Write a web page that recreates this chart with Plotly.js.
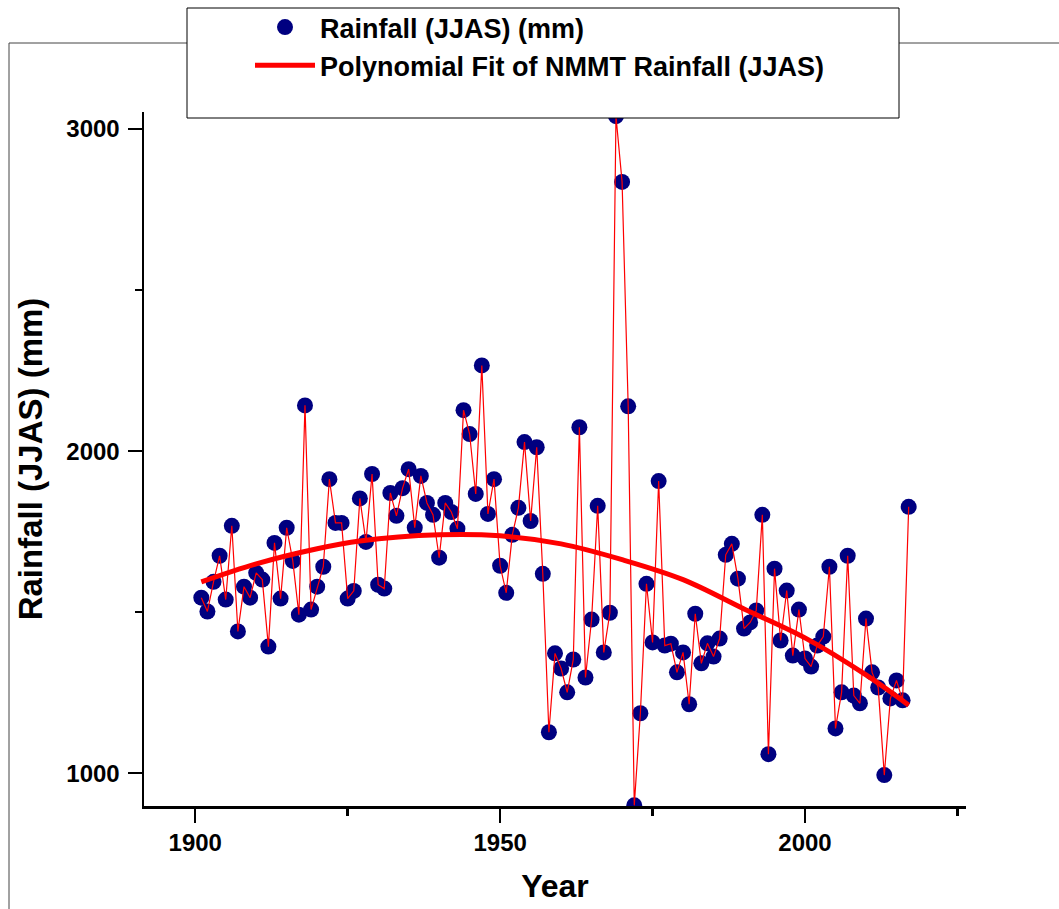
<!DOCTYPE html>
<html><head><meta charset="utf-8">
<script src="https://cdn.plot.ly/plotly-3.0.1.min.js"></script>
<style>html,body{margin:0;padding:0;background:#fff;}#chart{width:1059px;height:909px;}</style>
</head><body><div id="chart"></div>
<script>
// ---- data ----
const firstYear = 1901;
const rainfall = [
  1545,1502,1594,1675,1539,1768,1440,1579,1545,1622,
  1601,1393,1715,1542,1762,1659,1492,2142,1508,1579,
  1641,1913,1777,1777,1542,1566,1853,1718,1929,1585,
  1573,1870,1799,1885,1944,1762,1923,1839,1802,1669,
  1839,1811,1759,2127,2053,1867,2266,1805,1913,1644,
  1560,1740,1824,2028,1783,2012,1619,1127,1372,1325,
  1251,1353,2074,1297,1477,1830,1375,1498,3040,2836,
  2139,900,1186,1588,1406,1907,1396,1402,1313,1375,
  1214,1495,1341,1403,1362,1418,1678,1712,1604,1449,
  1468,1505,1802,1059,1635,1412,1567,1365,1508,1356,
  1331,1396,1424,1641,1139,1251,1675,1241,1217,1480,
  1313,1266,994,1232,1288,1226,1827
];
const years = rainfall.map((_, i) => firstYear + i);
const fitYears  = [1901,1910,1920,1927,1940,1950,1960,1970,1980,1990,2000,2010,2017];
const fitValues = [1594,1650,1697,1721,1740,1737,1712,1663,1601,1510,1420,1305,1211];
const xTickVals = [1900,1950,2000];
const yTickVals = [1000,2000,3000];
const seriesName = 'Rainfall (JJAS) (mm)';
const fitName = 'Polynomial Fit of NMMT Rainfall (JJAS)';
const xTitle = 'Year';
const yTitle = 'Rainfall (JJAS) (mm)';

// ---- layout geometry (pixels) ----
const W = 1059, H = 909;
const mL = 144, mR = 93, mT = 112, mB = 103;
const pw = W - mL - mR, ph = H - mT - mB;
const px = x => (x - mL) / pw;
const py = y => (H - mB - y) / ph;

const FONT = 'Liberation Sans, Arial, Helvetica, sans-serif';

const traces = [
  {x: years, y: rainfall, type: 'scatter', mode: 'markers', name: seriesName,
   marker: {color: '#000080', size: 16}, cliponaxis: true},
  {x: years, y: rainfall, type: 'scatter', mode: 'lines', showlegend: false,
   line: {color: '#ff0000', width: 1.2}, hoverinfo: 'skip'},
  {x: fitYears, y: fitValues, type: 'scatter', mode: 'lines', name: fitName,
   line: {color: '#ff0000', width: 5, shape: 'spline', smoothing: 1}}
];

const axisCommon = {
  showgrid: false, zeroline: false, showline: true, linecolor: '#000', linewidth: 2.5,
  mirror: false, ticks: 'outside', ticklen: 14, tickwidth: 2.5, tickcolor: '#000',
  tickfont: {family: FONT, size: 24, color: '#000', weight: 'bold'}
};

const layout = {
  width: W, height: H,
  margin: {l: mL, r: mR, t: mT, b: mB, pad: 0, autoexpand: false},
  paper_bgcolor: '#fff', plot_bgcolor: '#fff',
  showlegend: true,
  xaxis: Object.assign({}, axisCommon, {
    range: [1891.6, 2026.4], tickmode: 'array', tickvals: xTickVals,
    ticklabelstandoff: 0,
    minor: {dtick: 25, tick0: 1900, ticks: 'outside', ticklen: 7, tickwidth: 2.5, tickcolor: '#000', showgrid: false},
    title: {text: xTitle, font: {family: FONT, size: 32, color: '#000', weight: 'bold'}, standoff: 20}
  }),
  yaxis: Object.assign({}, axisCommon, {
    range: [898, 3053], tickmode: 'array', tickvals: yTickVals,
    ticklabelstandoff: 3,
    minor: {dtick: 500, tick0: 0, ticks: 'outside', ticklen: 7, tickwidth: 2.5, tickcolor: '#000', showgrid: false},
    title: {text: yTitle + '\u00a0\u00a0\u00a0\u00a0\u00a0', font: {family: FONT, size: 33, color: '#000', weight: 'bold'}, standoff: 14}
  }),
  legend: {
    x: px(250), y: py(3), xanchor: 'left', yanchor: 'top',
    bgcolor: 'rgba(0,0,0,0)', borderwidth: 0,
    font: {family: FONT, size: 27, color: '#000', weight: 'bold'},
    itemwidth: 60, tracegroupgap: 0
  },
  shapes: [
    {type: 'line', xref: 'paper', yref: 'paper', x0: px(9), x1: px(W + 5), y0: py(43), y1: py(43),
     line: {color: '#444', width: 1}, layer: 'above'},
    {type: 'line', xref: 'paper', yref: 'paper', x0: px(9), x1: px(9), y0: py(43), y1: py(H + 5),
     line: {color: '#444', width: 1}, layer: 'above'},
    {type: 'rect', xref: 'paper', yref: 'paper', x0: px(187), x1: px(899), y0: py(118), y1: py(8),
     fillcolor: '#fff', line: {color: '#000', width: 1}, layer: 'above'}
  ]
};

Plotly.newPlot('chart', traces, layout, {displayModeBar: false, staticPlot: true});
</script></body></html>
